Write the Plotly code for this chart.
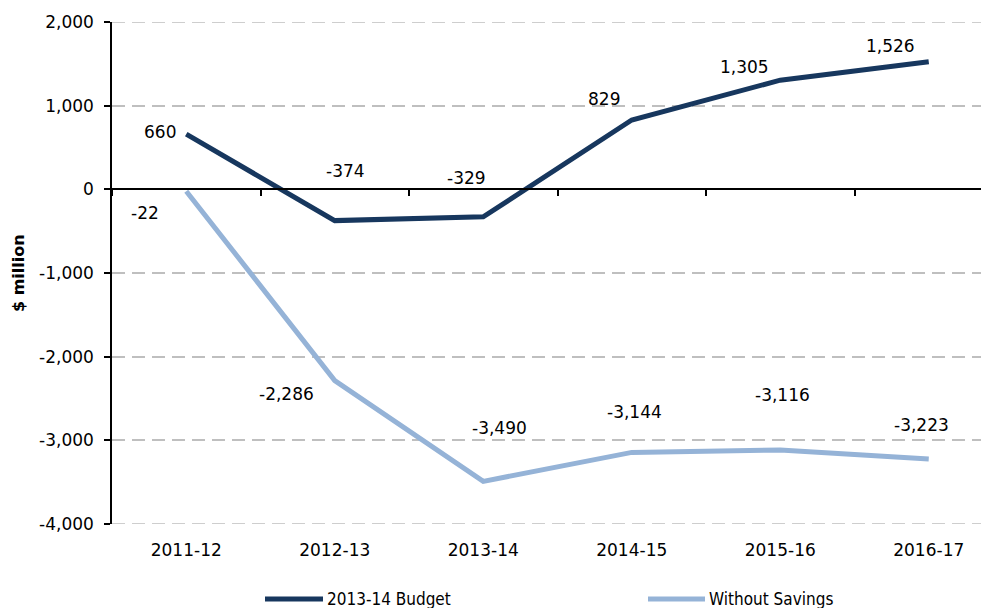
import plotly.graph_objects as go

categories = ["2011-12", "2012-13", "2013-14", "2014-15", "2015-16", "2016-17"]
budget_name = "2013-14 Budget"
budget_values = [660, -374, -329, 829, 1305, 1526]
savings_name = "Without Savings"
savings_values = [-22, -2286, -3490, -3144, -3116, -3223]
y_tick_values = [2000, 1000, 0, -1000, -2000, -3000, -4000]
y_tick_labels = ["2,000", "1,000", "0", "-1,000", "-2,000", "-3,000", "-4,000"]
y_title = "$ million"
y_min, y_max = -4000, 2000

# label pixel offsets (dx right, dy down) -- styling only
budget_label_offsets = [(-26, -2), (11, -50), (-17, -39), (-28, -21), (-36, -13), (-38, -16)]
savings_label_offsets = [(-41, 22), (-48, 13), (16, -53), (3, -40), (2, -55), (-7, -34)]

DARK = "#17375E"
LIGHT = "#95B3D7"
GRID = "#BFBFBF"
FONT = "DejaVu Sans"

# page has an 8px body margin; size the figure so it fills the 989x608 window
OFF = 8
W, H = 989 - OFF, 608 - OFF
ML, MR, MT, MB = 112 - OFF, 0, 22 - OFF, 84
PW = W - ML - MR
PH = H - MT - MB

fig = go.Figure()
fig.add_trace(go.Scatter(x=categories, y=budget_values, mode="lines", name=budget_name,
                         line=dict(color=DARK, width=5), showlegend=False, hoverinfo="x+y"))
fig.add_trace(go.Scatter(x=categories, y=savings_values, mode="lines", name=savings_name,
                         line=dict(color=LIGHT, width=5), showlegend=False, hoverinfo="x+y"))
# helper trace to instantiate the zero-crossing category axis
fig.add_trace(go.Scatter(x=categories, y=[None] * len(categories), xaxis="x2", yaxis="y",
                         mode="lines", showlegend=False, hoverinfo="skip"))

def fmt(v):
    return f"{v:,}"

annotations = []
for cat, val, (dx, dy) in zip(categories, budget_values, budget_label_offsets):
    annotations.append(dict(x=cat, y=val, xref="x", yref="y", text=fmt(val), showarrow=False,
                            xshift=dx, yshift=-dy, font=dict(family=FONT, size=17, color="#000")))
for cat, val, (dx, dy) in zip(categories, savings_values, savings_label_offsets):
    annotations.append(dict(x=cat, y=val, xref="x", yref="y", text=fmt(val), showarrow=False,
                            xshift=dx, yshift=-dy, font=dict(family=FONT, size=17, color="#000")))

def px_x(px):
    return (px - OFF - ML) / PW

def px_y(py):
    return (H - MB - (py - OFF)) / PH

# y-axis title
annotations.append(dict(x=px_x(18), y=0.5, xref="paper", yref="paper", text="<b>" + y_title + "</b>",
                        textangle=-90, showarrow=False, xanchor="center", yanchor="middle",
                        font=dict(family=FONT, size=16, color="#000")))

# manual legend
legend_y = 599
shapes = []
for (x0, x1, tx, color, name) in [(265, 323, 325, DARK, budget_name), (648, 705, 707, LIGHT, savings_name)]:
    shapes.append(dict(type="line", xref="paper", yref="paper", x0=px_x(x0), x1=px_x(x1),
                       y0=px_y(legend_y), y1=px_y(legend_y), line=dict(color=color, width=5)))
    annotations.append(dict(x=px_x(tx), y=px_y(legend_y), xref="paper", yref="paper", text=name,
                            showarrow=False, xanchor="left", yanchor="middle",
                            font=dict(family="DejaVu Sans Condensed, " + FONT, size=17, color="#000")))

# dashed gridlines at the range ends (plotly clips them)
for yv in (y_min, y_max):
    shapes.append(dict(type="line", xref="paper", yref="y", x0=0, x1=1, y0=yv, y1=yv,
                       line=dict(color=GRID, width=1.5, dash="13px,7px"), layer="below"))

x_range = [-0.5, -0.5 + PW / 148.5]
zero_pos = (0 - y_min) / (y_max - y_min)

fig.update_layout(
    width=W, height=H,
    margin=dict(l=ML, r=MR, t=MT, b=MB, autoexpand=False),
    paper_bgcolor="white", plot_bgcolor="white",
    showlegend=False,
    font=dict(family=FONT, size=17, color="#000"),
    xaxis=dict(type="category", categoryorder="array", categoryarray=categories, range=x_range,
               showgrid=False, showline=False, zeroline=False, ticks="", automargin=False,
               tickfont=dict(family=FONT, size=17, color="#000"), ticklabelstandoff=14),
    xaxis2=dict(type="category", categoryorder="array", categoryarray=categories, range=x_range,
                overlaying="x", anchor="free", position=zero_pos, side="bottom", automargin=False,
                showline=True, linecolor="#000", linewidth=1.5,
                ticks="outside", ticklen=6, tickcolor="#000", tickwidth=1.5, tickson="boundaries",
                showticklabels=False, showgrid=False, zeroline=False),
    yaxis=dict(range=[y_min, y_max], tickvals=y_tick_values, ticktext=y_tick_labels, automargin=False,
               showgrid=True, gridcolor=GRID, gridwidth=1.5, griddash="13px,7px",
               zeroline=False, showline=True, linecolor="#000", linewidth=1.5,
               ticks="outside", ticklen=6, tickcolor="#000", tickwidth=1.5,
               tickfont=dict(family=FONT, size=17, color="#000"), ticklabelstandoff=7),
    annotations=annotations,
    shapes=shapes,
)

fig.write_html("out.html")
